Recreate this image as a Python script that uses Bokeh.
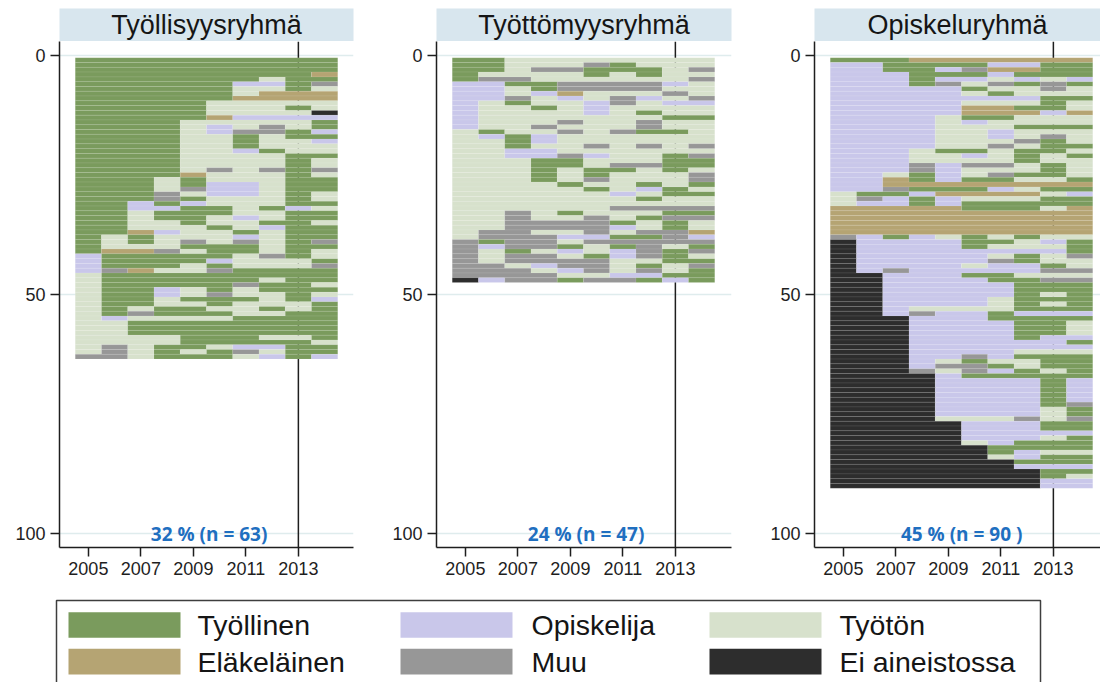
from bokeh.plotting import figure
from bokeh.layouts import row, column
from bokeh.models import Range1d, FixedTicker, ColumnDataSource
from bokeh.core.properties import value
from bokeh.embed import file_html
from bokeh.resources import INLINE

# ---------------- data ----------------
years = [2005, 2006, 2007, 2008, 2009, 2010, 2011, 2012, 2013, 2014]
x_ticks = [2005, 2007, 2009, 2011, 2013]
y_ticks = [0, 50, 100]
ref_year = [2013]

state_codes = ["G", "O", "U", "E", "M", "N"]
state_labels = ["Työllinen", "Opiskelija", "Työtön", "Eläkeläinen", "Muu", "Ei aineistossa"]

group_names = ["Työllisyysryhmä", "Työttömyysryhmä", "Opiskeluryhmä"]
group_notes = ["32 % (n = 63)", "24 % (n = 47)", "45 % (n = 90  )"]
note_pos = [2009.6, 100]

# one string per person, one letter per year 2005-2014
seq_tyollisyys = [
    "GGGGGGGGGG", "GGGGGGGGGG", "GGGGGGGGGG", "GGGGGGGGGE", "GGGGGGGUGG",
    "GGGGGGOOGM", "GGGGGGUUGU", "GGGGGGUEEE", "GGGGGGEEEE", "GGGGGUUUUU",
    "GGGGGUUUGU", "GGGGGUUUUN", "GGGGGEOOOO", "GGGGUUUUUG", "GGGGUOUMUG",
    "GGGGUOMMGO", "GGGGUUGUGG", "GGGGUUGUUO", "GGGGUUGUUU", "GGGGUUOGUU",
    "GGGGUUUUGG", "GGGGUUUUGU", "GGGGUUUUGU", "GGGGUMUMGM", "GGGGEUUUGU",
    "GGGUGUUUGG", "GGGUGOOUGG", "GGGUMOOUGG", "GGGMUOOUGU", "GGGMGUUUGU",
    "GGOGOUUUGG", "GGOOGGUGOU", "GGUGGGUUGG", "GGUGGUOUGG", "GGUUGUUGGU",
    "GGUUUGUOGG", "GGEOUUGUGG", "GUGUUUOUGG", "GUGUMUMUGM", "GUUUGGGUGG",
    "GEEMUGGUGU", "OGGGGGUMGU", "OGGGGOUUUG", "OGGGUGUUUM", "OMEUUMGGGG",
    "UGGGGGGGGG", "UGGGGGGUGG", "UGGGGGMGGU", "UGGOUGUGGG", "UGGOUMUUGU",
    "UGGUGGGUGO", "UGGUUGUUUG", "UGUGGUUGUG", "UGMGGGUUGG", "UOUUUUGGGG",
    "UUGGGGGGGG", "UUGGGGGGGG", "UUGGGGGGGG", "UUUUGGGUUG", "UUUUGGGGGU",
    "UMUGGUOOGG", "UMUGUGMUGG", "MMUGGGUOGO",
]

seq_tyottomyys = [
    "GGUUUUUUUU", "GGUUUMGUUU", "GGUMMGGGUM", "GUUUUGUGUU", "GMMUUUUUUM",
    "OOGGMMMMOU", "OOUGMMMMUU", "OOUOEUUUMU", "OOMUOUMOUM", "OUGUUOMUOO",
    "OUUGUOUUUU", "OUUUUOUGUU", "OUUUUUUUGG", "OUUUMUUMUU", "OUUMUUUMUU",
    "UGUUMUMGGU", "UOGOUUUUUU", "UUGOUUUUUU", "UUGUUMUMUM", "UUOOUUUUUU",
    "UUOOMOUUGM", "UUUGGUUUGG", "UUUGGUMMGG", "UUUGUGGUGU", "UUUGUGUUUM",
    "UUUGUMUUUM", "UUUUGUUGUG", "UUUUUGUOGU", "UUUUUUOUGG", "UUUUUUUGUU",
    "UUUUUUUUUU", "UUUUUUMMMM", "UUMUGUUUGG", "UUMUUMUGMM", "UUMMMMGUGU",
    "UUMMMMOUGU", "UMMUUMUMME", "UMMMOOGGMO", "MGMMUMMMMM", "MOMMGUGMUG",
    "MUGUOUOMGM", "MUMMUGOMGU", "MUMMMMUUGG", "MMUOMMUGUM", "MMMUOMUMUG",
    "MMMMUUOOGG", "NOMMGMMGOG",
]

seq_opiskelu = [
    "GGGEEEEEEE", "OOGGGGOOGG", "OOGGOMEEGG", "OOOGGGOGGG", "OOOGOOUOUO",
    "OOOGMUMGMG", "OOOOOGUUMU", "OOOOOUGUUU", "OOOOOOOOGG", "OOOOOUUUGU",
    "OOOOOEEGGU", "OOOOOEEEOE", "OOOOUGGUUU", "OOOOUOUUUU", "OOOOUUUGGG",
    "OOOOUUOUUU", "OOOOUUOUMU", "OOOOUUUMGU", "OOOOUUMUGG", "OOOUGGUGGU",
    "OOOUUOUGUG", "OOOUUUUGUU", "OOOMOMMUGU", "OOOMOUUUGU", "OOUGOUMGGU",
    "OOEGOGGUUG", "OOEEEEEEEE", "OOMGGGOUGG", "UGGOEEEEUO", "UMOGOUUUGG",
    "UOOGOGGGGG", "EEEEEGGGUE", "EEEEEEEEEE", "EEEEEEEEEE", "EEEEEEEEEE",
    "EEEEEEEEEE", "EEEEEEEEEE", "MOGOUGUGUU", "NOOOOGGUOG", "NOOOOGUUUG",
    "NOOOOOOOOG", "NOOOOOUGUM", "NOOOOOMGUU", "NOOOOUOOGU", "NOMOOOOOMM",
    "NNOOOGGUUU", "NNOOOOGGMM", "NNOOOOOGGG", "NNOOOOOGGG", "NNOOOOOGUG",
    "NNOOOOUGGG", "NNOOOOUGUG", "NNOUUUUGGG", "NNOMOOGOOO", "NNNOOOGGGG",
    "NNNOOOOGGU", "NNNOOOOGGU", "NNNOOOOGGU", "NNNOOOOGOO", "NNNOOOOOOG",
    "NNNOOOOOOO", "NNNOOOOUUU", "NNNOOMOGGG", "NNNOUGUUGG", "NNNOMMGUGG",
    "NNNMUMOGUG", "NNNNOGGGGG", "NNNNOOOOGO", "NNNNOOOOGO", "NNNNOOOOGO",
    "NNNNOOOOGO", "NNNNOOOOGO", "NNNNOOOOGM", "NNNNOOOOUG", "NNNNOOOOUG",
    "NNNNUUUMUM", "NNNNNOOOGG", "NNNNNOOOGG", "NNNNNOOOOO", "NNNNNOOOUG",
    "NNNNNUOGGG", "NNNNNNGGGG", "NNNNNNGOUU", "NNNNNNUOGG", "NNNNNNNGGG",
    "NNNNNNNOOO", "NNNNNNNNGG", "NNNNNNNNGU", "NNNNNNNNOO", "NNNNNNNNOO",
]

group_sequences = [seq_tyollisyys, seq_tyottomyys, seq_opiskelu]

# ---------------- style ----------------
COLORS = {"G": "#7a9b5d", "O": "#c9c7ea", "U": "#d7e1cc",
          "E": "#b5a473", "M": "#979797", "N": "#2d2d2d"}
TITLE_BG = "#d8e6ee"
AXIS_COLOR = "#1e1e1e"
NOTE_COLOR = "#1f6fc0"
FONT = "Liberation Sans"

PX_PER_YEAR = 26.25
PX_PER_UNIT = 4.783
X_START = 2003.9
Y_TOP = -2.9
FRAME_H = 506
left_bs = [59, 51, 51]
fig_widths = [385, 378, 337]
right_bs = [32, 32, 0]
TITLE_H = 41
TITLE_TOP = 8
PLOT_H = 554
BOTTOM_B = 48


def build_runs(seqs):
    d = dict(left=[], right=[], top=[], bottom=[], color=[])
    for i, s in enumerate(seqs):
        r = i + 1
        j = 0
        while j < len(s):
            k = j
            while k + 1 < len(s) and s[k + 1] == s[j]:
                k += 1
            d["left"].append(years[j] - 0.5)
            d["right"].append(years[k] + 0.5)
            d["top"].append(r - 0.5)
            d["bottom"].append(r + 0.5)
            d["color"].append(COLORS[s[j]])
            j = k + 1
    return ColumnDataSource(d)


titles = []
plots = []
for g in range(3):
    w = fig_widths[g]
    fw = w - left_bs[g] - right_bs[g]
    # title strip
    t = figure(width=w, height=TITLE_H, x_range=Range1d(0, 1), y_range=Range1d(0, 1),
               min_border_left=left_bs[g], min_border_right=right_bs[g],
               min_border_top=TITLE_TOP, min_border_bottom=0,
               x_axis_location=None, y_axis_location=None,
               toolbar_location=None, output_backend="svg")
    t.background_fill_color = TITLE_BG
    t.border_fill_color = "white"
    t.outline_line_color = None
    t.grid.visible = False
    t.text(x=[0.5], y=[0.5], text=[group_names[g]], text_align="center",
           text_baseline="middle", text_font=value(FONT), text_font_size="27px",
           text_color="#151515")
    titles.append(t)

    x_end = X_START + fw / PX_PER_YEAR
    y_end = Y_TOP + FRAME_H / PX_PER_UNIT
    p = figure(width=w, height=PLOT_H, x_range=Range1d(X_START, x_end),
               y_range=Range1d(y_end, Y_TOP),
               min_border_left=left_bs[g], min_border_right=right_bs[g],
               min_border_top=0, min_border_bottom=BOTTOM_B,
               toolbar_location=None, output_backend="svg")
    p.outline_line_color = None
    p.background_fill_color = "white"
    p.xgrid.visible = False
    p.ygrid.ticker = FixedTicker(ticks=y_ticks)
    p.ygrid.grid_line_color = "#dfeced"
    p.ygrid.grid_line_width = 1.5
    p.yaxis.ticker = FixedTicker(ticks=y_ticks)
    p.xaxis.ticker = FixedTicker(ticks=x_ticks)
    for ax in (p.xaxis[0], p.yaxis[0]):
        ax.axis_line_color = AXIS_COLOR
        ax.axis_line_width = 1.5
        ax.major_tick_line_color = AXIS_COLOR
        ax.major_tick_line_width = 1.5
        ax.major_tick_out = 9
        ax.major_tick_in = 0
        ax.minor_tick_line_color = None
        ax.major_label_text_font = FONT
        ax.major_label_text_color = "#1e1e1e"
        ax.major_label_standoff = 5
    p.yaxis.major_label_text_font_size = "18px"
    p.xaxis.major_label_text_font_size = "18px"

    # reference line at 2013 across the whole frame, drawn first so the sequences cover it
    p.segment(x0=ref_year, y0=[Y_TOP], x1=ref_year, y1=[y_end],
              line_color=AXIS_COLOR, line_width=1.5)
    src = build_runs(group_sequences[g])
    p.quad(left="left", right="right", top="top", bottom="bottom", source=src,
           fill_color="color", line_color="white", line_alpha=0.14, line_width=0.6)
    p.text(x=[note_pos[0]], y=[note_pos[1]], text=[group_notes[g]], text_align="center",
           text_baseline="middle", text_font=value("Open Sans"), text_font_style="bold",
           text_font_size="19px", text_color=NOTE_COLOR)
    plots.append(p)

# ---------------- legend ----------------
LEG_W, LEG_H = 1100, 87
leg = figure(width=LEG_W, height=LEG_H, x_range=Range1d(0, LEG_W), y_range=Range1d(LEG_H, 0),
             min_border=0, x_axis_location=None, y_axis_location=None,
             toolbar_location=None, output_backend="svg")
leg.outline_line_color = None
leg.grid.visible = False
leg.line(x=[56, 56, 1040, 1040], y=[LEG_H + 2, 5, 5, LEG_H + 2],
         line_color="#3e3e3e", line_width=1.5)
col_sw = [68, 400, 709]
col_tx = [197, 531, 839]
row_top = [16.7, 53.3]
SW_W, SW_H = 112, 25.6
sw = dict(left=[], right=[], top=[], bottom=[], color=[])
tx = dict(x=[], y=[], text=[])
for i, code in enumerate(state_codes):
    r, c = divmod(i, 3)
    sw["left"].append(col_sw[c]); sw["right"].append(col_sw[c] + SW_W)
    sw["top"].append(row_top[r]); sw["bottom"].append(row_top[r] + SW_H)
    sw["color"].append(COLORS[code])
    tx["x"].append(col_tx[c]); tx["y"].append(row_top[r] + SW_H / 2)
    tx["text"].append(state_labels[i])
leg.quad(left="left", right="right", top="top", bottom="bottom", fill_color="color",
         line_color=None, source=ColumnDataSource(sw))
leg.text(x="x", y="y", text="text", source=ColumnDataSource(tx), text_baseline="middle",
         text_font=value(FONT), text_font_size="28.5px", text_color="#151515")

layout = column(row(*titles), row(*plots), leg)
open("out.html", "w").write(file_html(layout, INLINE))
